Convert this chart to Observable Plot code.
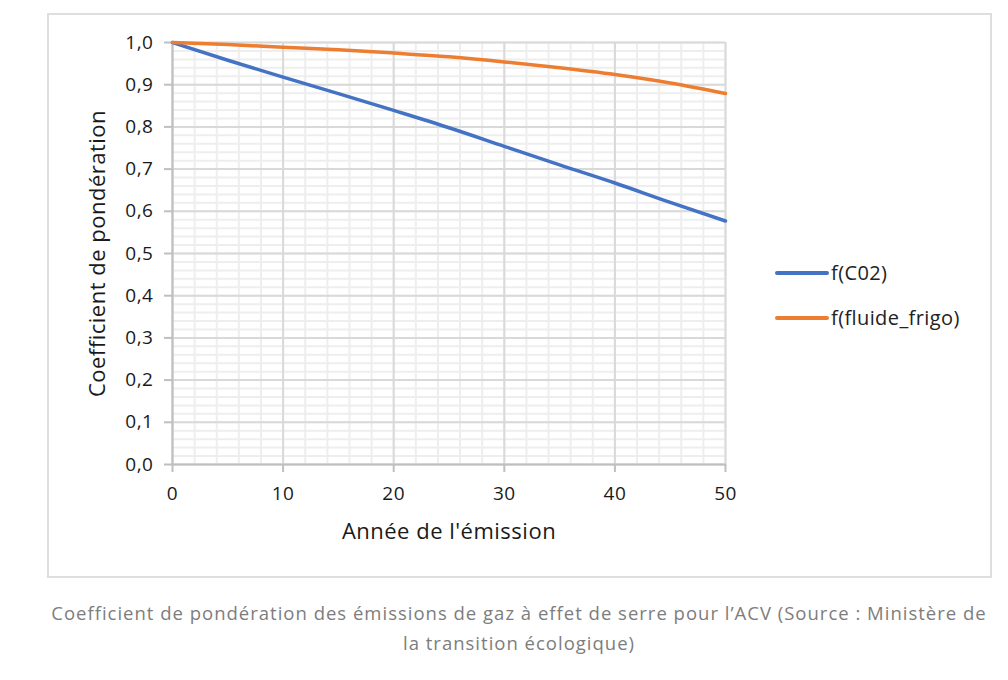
<!DOCTYPE html>
<html>
<head>
<meta charset="utf-8">
<script src="https://cdn.jsdelivr.net/npm/d3@7"></script>
<script src="https://cdn.jsdelivr.net/npm/@observablehq/plot@0.6"></script>
<style>
  html, body { margin: 0; padding: 0; background: #fff; }
  #box { position: absolute; left: 47px; top: 13px; width: 941px; height: 561px; border: 2px solid #dedede; }
  #chart svg { display: block; }
  .leg { position: absolute; font-family: "Open Sans", sans-serif; font-size: 20px; letter-spacing: 0.4px; color: #222; display: flex; align-items: center; }
  .leg .sw { width: 54px; height: 4px; border-radius: 2px; margin-right: 2px; }
  #caption { position: absolute; left: 40px; top: 598px; width: 958px; text-align: center; font-family: "Open Sans", sans-serif; font-size: 18.5px; letter-spacing: 1px; line-height: 30px; color: #7d7d7d; }
</style>
</head>
<body>
<div id="box"><div id="chart"></div></div>
<div id="legend"></div>
<div id="caption"></div>
<script>
// ---- data ----
const years = [0, 5, 10, 15, 20, 25, 30, 35, 40, 45, 50];
const fCO2 = [1.0, 0.958, 0.918, 0.879, 0.839, 0.798, 0.754, 0.710, 0.667, 0.621, 0.577];
const fFluide = [1.0, 0.995, 0.989, 0.983, 0.975, 0.966, 0.954, 0.940, 0.924, 0.904, 0.879];
const seriesNames = ["f(C02)", "f(fluide_frigo)"];
const seriesColors = ["#4472C4", "#ED7D31"];
const xMajorTicks = [0, 10, 20, 30, 40, 50];
const xMinorTicks = [0, 2, 4, 6, 8, 10, 12, 14, 16, 18, 20, 22, 24, 26, 28, 30, 32, 34, 36, 38, 40, 42, 44, 46, 48, 50];
const yMajorTicks = [0, 0.1, 0.2, 0.3, 0.4, 0.5, 0.6, 0.7, 0.8, 0.9, 1.0];
const yMinorTicks = d3.range(0, 51).map(i => i / 50);
const xLabel = "Année de l'émission";
const yLabel = "Coefficient de pondération";
const captionText = "Coefficient de pondération des émissions de gaz à effet de serre pour l’ACV (Source : Ministère de<br>la transition écologique)";

const rows = [];
years.forEach((y, i) => {
  rows.push({year: y, value: fCO2[i], series: seriesNames[0]});
});
years.forEach((y, i) => {
  rows.push({year: y, value: fFluide[i], series: seriesNames[1]});
});

const fmt = d => d.toFixed(1).replace(".", ",");

const chart = Plot.plot({
  width: 941,
  height: 561,
  marginLeft: 123,
  marginRight: 265,
  marginTop: 27,
  marginBottom: 112,
  x: {domain: [0, 50]},
  y: {domain: [0, 1]},
  color: {domain: seriesNames, range: seriesColors},
  style: {fontFamily: "'Open Sans', sans-serif", fontSize: "19px", color: "#222", background: "transparent", letterSpacing: "0.5px"},
  marks: [
    Plot.gridY(yMinorTicks, {stroke: "#eeeeee", strokeOpacity: 1, strokeWidth: 2}),
    Plot.gridX(xMinorTicks, {stroke: "#eeeeee", strokeOpacity: 1, strokeWidth: 2}),
    Plot.gridY(yMajorTicks, {stroke: "#d9d9d9", strokeOpacity: 1, strokeWidth: 2}),
    Plot.gridX(xMajorTicks, {stroke: "#d9d9d9", strokeOpacity: 1, strokeWidth: 2}),
    Plot.axisY(yMajorTicks, {tickSize: 8, tickPadding: 11, tickFormat: fmt, stroke: "#bfbfbf", strokeWidth: 2, fill: "#1a1a1a", label: null, fontSize: 19}),
    Plot.axisX(xMajorTicks, {tickSize: 8, tickPadding: 14, tickFormat: d => String(d), stroke: "#bfbfbf", strokeWidth: 2, fill: "#1a1a1a", label: null, fontSize: 19}),
    Plot.ruleX([0], {stroke: "#bfbfbf", strokeWidth: 2}),
    Plot.ruleY([0], {stroke: "#bfbfbf", strokeWidth: 2}),
    Plot.line(rows, {x: "year", y: "value", stroke: "series", strokeWidth: 3.5, curve: "monotone-x", strokeLinecap: "round"}),
    Plot.text([xLabel], {frameAnchor: "bottom", dy: 74, fontSize: 22, fill: "#1a1a1a"}),
    Plot.text([yLabel], {frameAnchor: "left", dx: -75, rotate: -90, textAnchor: "middle", fontSize: 22, fill: "#1a1a1a"})
  ]
});
document.getElementById("chart").appendChild(chart);

// legend
const legend = document.getElementById("legend");
seriesNames.forEach((name, i) => {
  const item = document.createElement("div");
  item.className = "leg";
  item.style.left = "775px";
  item.style.top = (259 + i * 45) + "px";
  const sw = document.createElement("span");
  sw.className = "sw";
  sw.style.background = seriesColors[i];
  const tx = document.createElement("span");
  tx.textContent = name;
  item.appendChild(sw);
  item.appendChild(tx);
  legend.appendChild(item);
});

document.getElementById("caption").innerHTML = captionText;
</script>
</body>
</html>
